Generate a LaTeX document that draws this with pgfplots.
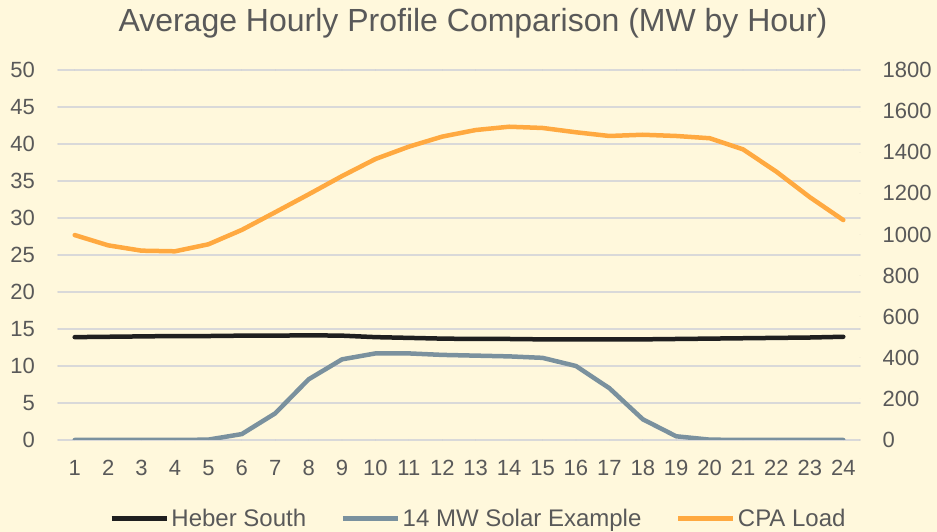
\documentclass[border=0pt]{standalone}
\usepackage{pgfplots}
\pgfplotsset{compat=1.18}
\usepackage{fontspec}
\setmainfont{Liberation Sans}
\definecolor{bg}{HTML}{FFF8DC}
\definecolor{txt}{HTML}{595959}
\definecolor{gridc}{HTML}{D9D9D9}
\definecolor{heber}{HTML}{1F1F1F}
\definecolor{solar}{HTML}{7A919E}
\definecolor{cpa}{HTML}{FFA940}
\begin{document}
\begin{tikzpicture}
\fill[bg] (-58pt,-92pt) rectangle (879pt,440pt);
\path[use as bounding box] (-58pt,-92pt) rectangle (879pt,440pt);
\pgfplotsset{common/.style={scale only axis, width=802pt, height=370pt,
  xmin=0.5, xmax=24.5, axis line style={draw=none}, major tick length=0pt,
  tick label style={font=\fontsize{22}{24}\selectfont, text=txt, inner sep=0pt},
  /pgf/number format/assume math mode=true, /pgf/number format/1000 sep={},
  line join=round, line cap=round}}
\begin{axis}[common, ymin=0, ymax=50, ytick distance=5, xtick={1,...,24},
  ymajorgrids, grid style={gridc, line width=1.5pt},
  yticklabel shift=23pt, xticklabel shift=20pt,
  legend style={draw=none, fill=none, at={(0.524,0)}, anchor=center, yshift=-78.5pt,
    font=\fontsize{24}{26}\selectfont, text=txt, inner sep=0pt,
    /tikz/every even column/.append style={column sep=32pt}},
  legend columns=3,
  legend image code/.code={\draw[#1, line width=5.5pt] (0pt,0pt) -- (55pt,0pt);}]
\addplot[heber, line width=4.5pt] coordinates {
(1,13.9) (2,13.95) (3,14.0) (4,14.05) (5,14.05) (6,14.1) (7,14.1) (8,14.15)
(9,14.1) (10,13.9) (11,13.8) (12,13.7) (13,13.65) (14,13.65) (15,13.6) (16,13.6)
(17,13.6) (18,13.6) (19,13.65) (20,13.7) (21,13.75) (22,13.8) (23,13.85) (24,13.95)};
\addlegendentry{Heber South}
\addplot[solar, line width=4.5pt] coordinates {
(1,0) (2,0) (3,0) (4,0) (5,0.05) (6,0.8) (7,3.6) (8,8.2) (9,10.9) (10,11.7)
(11,11.7) (12,11.5) (13,11.4) (14,11.3) (15,11.1) (16,10.0) (17,7.0) (18,2.8)
(19,0.5) (20,0.05) (21,0) (22,0) (23,0) (24,0)};
\addlegendentry{14 MW Solar Example}
\addlegendimage{cpa, line width=4.5pt}
\addlegendentry{CPA Load}
\end{axis}
\begin{axis}[common, ymin=0, ymax=1800, ytick distance=200, axis y line*=right,
  hide x axis, yticklabel shift=22.5pt, yticklabel style={anchor=west}]
\addplot[cpa, line width=4.5pt] coordinates {
(1,997) (2,947) (3,921) (4,918) (5,952) (6,1022) (7,1108) (8,1195) (9,1284)
(10,1367) (11,1427) (12,1476) (13,1508) (14,1524) (15,1518) (16,1497) (17,1479)
(18,1485) (19,1479) (20,1468) (21,1414) (22,1305) (23,1181) (24,1070)};
\end{axis}
\node[font=\fontsize{32}{36}\selectfont, text=txt, anchor=base] at (415pt,408.3pt) {Average Hourly Profile Comparison (MW by Hour)};
\end{tikzpicture}
\end{document}
